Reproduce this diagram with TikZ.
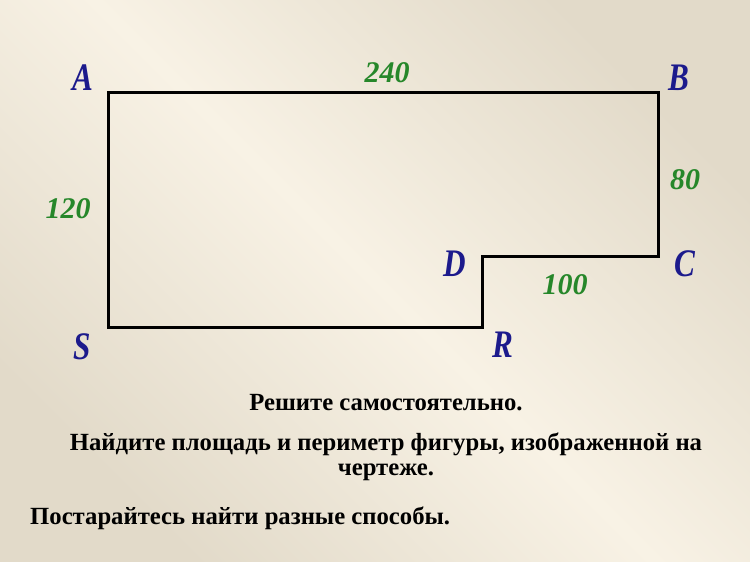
\documentclass[tikz,border=0pt]{standalone}
\usepackage{fontspec}
\setmainfont{Liberation Serif}
\usepackage{tikz}
\usetikzlibrary{positioning}

\definecolor{bglight}{RGB}{248,242,229}
\definecolor{bgdark}{RGB}{226,218,201}
\definecolor{letterblue}{RGB}{28,26,140}
\definecolor{numgreen}{RGB}{38,135,42}

\begin{document}
\begin{tikzpicture}[
    x=1pt, y=-1pt,
    outline/.style={line width=3pt, line join=miter},
    vertex/.style={font=\fontsize{39}{39}\selectfont\bfseries\itshape, text=letterblue, xscale=0.8, inner sep=0pt},
    length/.style={font=\fontsize{30}{30}\selectfont\bfseries\itshape, text=numgreen, inner sep=0pt},
    task/.style={font=\fontsize{24.7}{25}\selectfont\bfseries, align=center, inner sep=0pt}
]

% Background
\shade[top color=bgdark, bottom color=bgdark, middle color=bglight, shading angle=-45]
    (0,0) rectangle (750,562);

% Corners of the figure
\coordinate (A) at (108,92);
\coordinate (B) at (658,92);
\coordinate (C) at (658,256);
\coordinate (D) at (482,256);
\coordinate (R) at (482,327);
\coordinate (S) at (108,327);

\draw[outline] (A) -- (B) -- (C) -- (D) -- (R) -- (S) -- cycle;

% Vertex letters
\node[vertex] (labA) at (83,78) {A};
\node[vertex] (labB) at (679,78) {B};
\node[vertex] (labC) at (685,264) {C};
\node[vertex] (labD) at (455,264) {D};
\node[vertex] (labR) at (503,345) {R};
\node[vertex] (labS) at (82,347) {S};

% Side lengths
\node[length] (lenAB) at (387,73) {240};
\node[length] (lenBC) at (685,180) {80};
\node[length] (lenAS) at (68,209) {120};
\node[length] (lenDC) at (565,285) {100};

% Task text
\node[task] (t1) at (386,403) {Решите самостоятельно.};
\node[task] (t2) at (386,457) {Найдите площадь и периметр фигуры, изображенной на\\чертеже.};
\node[task, anchor=west] (t3) at (30,518) {Постарайтесь найти разные способы.};

\end{tikzpicture}
\end{document}
